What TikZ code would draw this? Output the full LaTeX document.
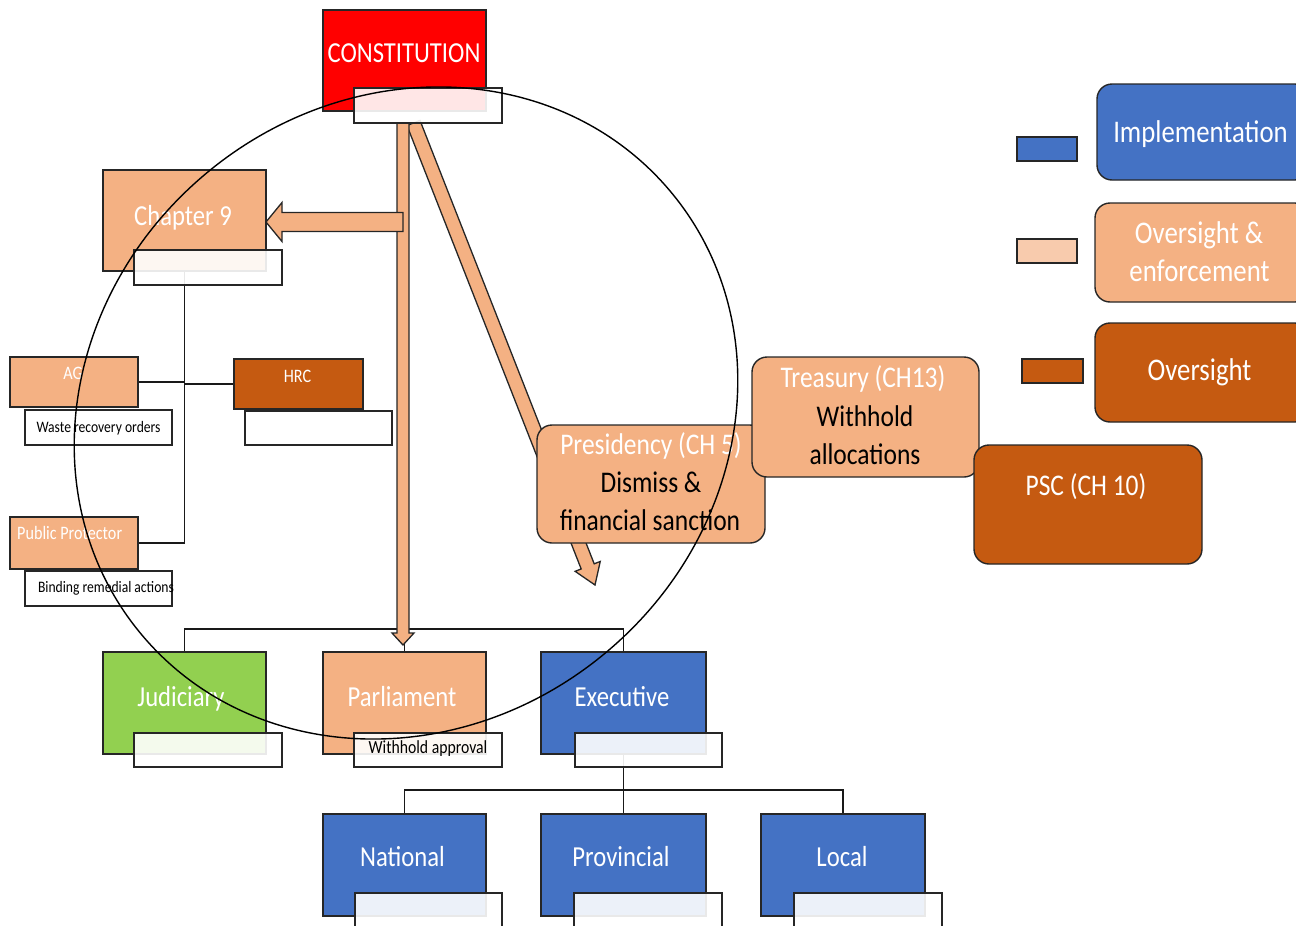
\documentclass[tikz,border=0pt]{standalone}
\usepackage{fontspec}
\setmainfont{Carlito}[FakeStretch=0.85]
\usetikzlibrary{calc,backgrounds}
\definecolor{cred}{HTML}{FF0000}
\definecolor{peach}{HTML}{F4B183}
\definecolor{lpeach}{HTML}{F8CBAD}
\definecolor{dorange}{HTML}{C55A11}
\definecolor{cblue}{HTML}{4472C4}
\definecolor{cgreen}{HTML}{92D050}
% block arrow: #1 start, #2 tip, #3 half shaft, #4 half head, #5 head length
\newcommand\blockarrow[5]{%
  \coordinate (ba-h) at ($(#2)!#5!(#1)$);
  \draw[arrowbox] ($(#1)!#3!90:(#2)$) -- ($(ba-h)!#3!90:(#2)$) -- ($(ba-h)!#4!90:(#2)$) -- (#2)
    -- ($(ba-h)!#4!-90:(#2)$) -- ($(ba-h)!#3!-90:(#2)$) -- ($(#1)!#3!-90:(#2)$) -- cycle;}
\begin{document}
\begin{tikzpicture}[x=1pt,y=-1pt,
  box/.style={draw=black!85, line width=1.4pt, inner sep=0pt, outer sep=0pt},
  rbox/.style={box, rounded corners=15pt},
  lbl/.style={box, fill=white, fill opacity=0.9},
  conn/.style={draw=black!90, line width=1.6pt},
  arrowbox/.style={fill=peach, draw=black!85, line width=1.3pt, line join=miter},
  ring/.style={draw=black, line width=1.4pt},
  wt/.style={text=white, anchor=base, inner sep=0pt},
  bt/.style={text=black, anchor=base, inner sep=0pt},
  fbig/.style={font=\fontsize{29}{34}\selectfont},
  frnd/.style={font=\fontsize{30}{36}\selectfont},
  fleg/.style={font=\fontsize{31.5}{38}\selectfont},
  fmid/.style={font=\fontsize{19}{23}\selectfont},
  fsml/.style={font=\fontsize{16}{19}\selectfont},
  sq/.style={minimum width=163pt, minimum height=102pt},
  lb/.style={minimum width=148pt, minimum height=35pt},
]
\useasboundingbox (0,0) rectangle (1296,926);
\clip (0,0) rectangle (1296,926);

% ---------- main boxes ----------
\node[box, fill=cred, minimum width=163pt, minimum height=101pt] (const) at (404.5,60.5) {};
\node[box, fill=peach, minimum width=163pt, minimum height=101pt] (ch9) at (184.5,220.5) {};
\node[box, fill=peach, minimum width=128pt, minimum height=50pt] (ag) at (74,382) {};
\node[box, fill=dorange, minimum width=129pt, minimum height=50pt] (hrc) at (298.5,384) {};
\node[box, fill=peach, minimum width=128pt, minimum height=52pt] (pp) at (74,543) {};
\node[box, fill=cgreen, sq] (jud) at (184.5,703) {};
\node[box, fill=peach, sq] (par) at (404.5,703) {};
\node[box, fill=cblue, sq, minimum width=165pt] (exe) at (623.5,703) {};
\node[box, fill=cblue, sq] (nat) at (404.5,865) {};
\node[box, fill=cblue, sq, minimum width=165pt] (prov) at (623.5,865) {};
\node[box, fill=cblue, sq, minimum width=164pt] (loc) at (843,865) {};

% rounded boxes
\node[rbox, fill=peach, minimum width=228pt, minimum height=118pt] (pres) at (651,484) {};
\node[rbox, fill=peach, minimum width=227pt, minimum height=120pt] (treas) at (865.5,417) {};
\node[rbox, fill=dorange, minimum width=228pt, minimum height=119pt] (psc) at (1088,504.5) {};

% legend
\node[box, fill=cblue, minimum width=60pt, minimum height=24pt] (lg1) at (1047,149) {};
\node[box, fill=lpeach, minimum width=60pt, minimum height=24pt] (lg2) at (1047,251) {};
\node[box, fill=dorange, minimum width=61pt, minimum height=24pt] (lg3) at (1052.5,371) {};
\node[rbox, fill=cblue, minimum width=213pt, minimum height=96pt] (leg1) at (1203.5,132) {};
\node[rbox, fill=peach, minimum width=215pt, minimum height=99pt] (leg2) at (1202.5,252.5) {};
\node[rbox, fill=dorange, minimum width=215pt, minimum height=99pt] (leg3) at (1202.5,372.5) {};

% ---------- label boxes ----------
\node[lbl, lb, minimum height=35pt] (constl) at (428,105.5) {};
\node[lbl, lb] (ch9l) at (208,267.5) {};
\node[lbl, minimum width=147pt, minimum height=35pt] (agl) at (98.5,427.5) {};
\node[lbl, minimum width=147pt, minimum height=34pt] (hrcl) at (318.5,428) {};
\node[lbl, minimum width=147pt, minimum height=35pt] (ppl) at (98.5,588.5) {};
\node[lbl, lb, minimum height=34pt] (judl) at (208,750) {};
\node[lbl, lb, minimum height=34pt] (parl) at (428,750) {};
\node[lbl, minimum width=147pt, minimum height=34pt] (exel) at (648.5,750) {};
\node[lbl, minimum width=147pt, minimum height=34pt] (natl) at (428.5,910) {};
\node[lbl, lb, minimum height=34pt] (provl) at (648,910) {};
\node[lbl, lb, minimum height=34pt] (locl) at (868,910) {};

% ---------- connectors and arrows (behind) ----------
\begin{pgfonlayer}{background}
  \coordinate (bar1) at (404.5,629);
  \coordinate (bar2) at (623.5,790);
  \draw[conn] (ch9.south) |- (pp.east);
  \draw[conn] (ag.east) -- (ag.east -| ch9.south);
  \draw[conn] (hrc.west) -- (hrc.west -| ch9.south);
  \draw[conn] (jud.north) -- (jud.north |- bar1) -- (exe.north |- bar1) -- (exe.north);
  \draw[conn] (par.north) -- (par.north |- bar1);
  \draw[conn] (exe.south) -- (prov.north);
  \draw[conn] (nat.north) -- (nat.north |- bar2) -- (loc.north |- bar2) -- (loc.north);
  % diagonal arrow to below presidency
  \coordinate (da-s) at ([xshift=9pt]const.center |- constl.south);
  \coordinate (da-t) at (595,585);
  \blockarrow{da-s}{da-t}{7pt}{13.5pt}{20pt}
  % vertical arrow to parliament
  \coordinate (va-s) at ([xshift=-1.5pt]const.center |- constl.south);
  \coordinate (va-t) at ([xshift=-1.5pt, yshift=7pt]par.north);
  \blockarrow{va-s}{va-t}{6pt}{11pt}{12pt}
  % horizontal arrow to chapter 9
  \coordinate (ha-s) at (403,222);
  \coordinate (ha-t) at (ch9.east |- ha-s);
  \blockarrow{ha-s}{ha-t}{9.5pt}{19.5pt}{16pt}
\end{pgfonlayer}

% ---------- texts ----------
\node[wt, fbig] (tconst) at (404,62) {CONSTITUTION};
\node[wt, fbig] (tch9) at (183,225) {Chapter 9};
\node[wt, fmid] (tag) at (73,379) {AG};
\node[wt, fmid] (thrc) at (297.5,382) {HRC};
\node[wt, fmid, anchor=base west] (tpp) at (17,539) {Public Protector};
\node[bt, fsml] (twaste) at (98.5,432) {Waste recovery orders};
\node[bt, fsml] (tbind) at (106,592) {Binding remedial actions};
\node[wt, fbig] (tjud) at (181,706) {Judiciary};
\node[wt, fbig] (tpar) at (402,706) {Parliament};
\node[wt, fbig] (texe) at (622,706) {Executive};
\node[bt, font=\fontsize{18.5}{22}\selectfont] (twith) at (428,753) {Withhold approval};
\node[wt, fbig] (tnat) at (402.5,866) {National};
\node[wt, fbig] (tprov) at (621,866) {Provincial};
\node[wt, fbig] (tloc) at (842,866) {Local};
\node[wt, frnd] (tpres1) at (651,454) {Presidency (CH 5)};
\node[bt, frnd] (tpres2) at (651,492) {Dismiss \&};
\node[bt, frnd] (tpres3) at (650,530) {financial sanction};
\node[wt, frnd] (ttr1) at (863,387) {Treasury (CH13)};
\node[bt, frnd] (ttr2) at (865,426) {Withhold};
\node[bt, frnd] (ttr3) at (865,464) {allocations};
\node[wt, frnd] (tpsc) at (1086,495) {PSC (CH 10)};
\node[wt, fleg] (tleg1) at (1200.5,142) {Implementation};
\node[wt, fleg] (tleg2a) at (1199,243) {Oversight \&};
\node[wt, fleg] (tleg2b) at (1199.5,281) {enforcement};
\node[wt, fleg] (tleg3) at (1199.5,380) {Oversight};

% ---------- ellipse on top ----------
\coordinate (ringc) at (406,413);
\draw[ring, rotate around={40:(ringc)}] (ringc) ellipse [x radius=345pt, y radius=312pt];
\end{tikzpicture}
\end{document}
